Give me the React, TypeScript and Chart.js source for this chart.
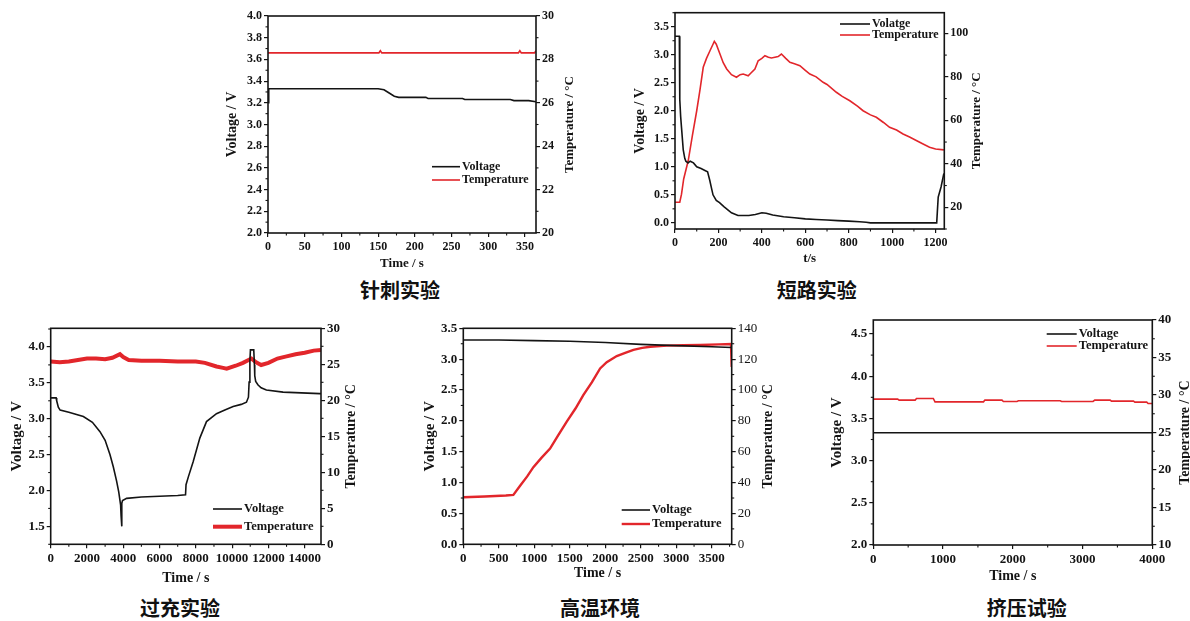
import React, { useEffect, useRef } from 'react';
import { Chart, registerables } from 'chart.js';

Chart.register(...registerables);

const RED = '#e2262b';
const BLACK = '#141414';
const SERIF = '"Liberation Serif", "Times New Roman", serif';

// ---------- 针刺实验 (needle) ----------
const needleVoltTime = [0, 1, 150, 158, 165, 172, 178, 215, 218, 265, 268, 330, 335, 355, 365];
const needleVolt = [3.2, 3.33, 3.33, 3.32, 3.29, 3.26, 3.25, 3.25, 3.24, 3.24, 3.23, 3.23, 3.22, 3.22, 3.21];
const needleTempTime = [0, 151, 153, 155, 341, 343, 345, 363, 365];
const needleTemp = [28.3, 28.3, 28.4, 28.3, 28.3, 28.4, 28.3, 28.3, 28.4];
const needleXTicks = [0, 50, 100, 150, 200, 250, 300, 350];
const needleVTicks = [2.0, 2.2, 2.4, 2.6, 2.8, 3.0, 3.2, 3.4, 3.6, 3.8, 4.0];
const needleTTicks = [20, 22, 24, 26, 28, 30];

// ---------- 短路实验 (short circuit) ----------
const shortVoltTime = [0, 20, 22, 26, 30, 38, 45, 50, 60, 70, 85, 100, 120, 140, 150, 160, 168, 175, 190, 205, 225, 260, 290, 320, 340, 370, 400, 420, 450, 500, 550, 600, 650, 700, 750, 800, 850, 880, 900, 1000, 1100, 1205, 1208, 1212, 1225, 1238];
const shortVolt = [3.33, 3.33, 2.2, 1.9, 1.7, 1.3, 1.15, 1.1, 1.07, 1.1, 1.07, 1.0, 0.97, 0.93, 0.91, 0.76, 0.62, 0.5, 0.4, 0.36, 0.29, 0.18, 0.13, 0.13, 0.13, 0.15, 0.18, 0.17, 0.14, 0.11, 0.09, 0.07, 0.06, 0.05, 0.04, 0.03, 0.02, 0.01, 0.0, 0.0, 0.0, 0.0, 0.2, 0.46, 0.64, 0.88];
const shortTempTime = [0, 22, 30, 40, 61, 80, 100, 115, 130, 145, 161, 175, 181, 190, 207, 222, 238, 260, 283, 300, 314, 337, 352, 368, 383, 400, 414, 430, 444, 460, 475, 490, 510, 529, 550, 575, 600, 621, 650, 682, 700, 743, 770, 805, 840, 866, 900, 927, 960, 988, 1020, 1050, 1080, 1111, 1140, 1172, 1200, 1238];
const shortTemp = [22.3, 22.3, 26, 33, 41.5, 53, 64.4, 74, 84.4, 88.5, 92, 95, 96.3, 95, 90.5, 86.5, 83.6, 81, 79.8, 81, 81.3, 80.5, 82, 83.6, 87.4, 88.5, 89.7, 89, 88.7, 89, 89.3, 90.5, 88.5, 86.7, 86, 85.1, 83, 81.3, 80, 77.5, 76.5, 72.9, 71, 69, 66.5, 64.4, 62.5, 61.4, 59, 56.8, 55.5, 53.7, 52.3, 50.7, 49.2, 47.6, 46.8, 46.4];
const shortXTicks = [0, 200, 400, 600, 800, 1000, 1200];
const shortVTicks = [0.0, 0.5, 1.0, 1.5, 2.0, 2.5, 3.0, 3.5];
const shortTTicks = [20, 40, 60, 80, 100];

// ---------- 过充实验 (overcharge) ----------
const overVoltTime = [0, 300, 330, 420, 520, 1000, 1800, 2300, 2716, 3000, 3266, 3450, 3633, 3750, 3853, 3880, 3908, 3930, 3960, 4184, 5000, 6000, 7000, 7432, 7460, 7600, 7853, 8220, 8588, 9138, 9600, 10056, 10500, 10790, 10900, 10937, 10980, 11010, 11193, 11230, 11248, 11300, 11432, 11600, 11890, 12808, 14826, 14900];
const overVolt = [3.29, 3.29, 3.25, 3.16, 3.12, 3.09, 3.03, 2.95, 2.82, 2.7, 2.5, 2.33, 2.13, 1.98, 1.8, 1.65, 1.5, 1.82, 1.86, 1.89, 1.91, 1.92, 1.93, 1.94, 2.08, 2.2, 2.4, 2.73, 2.96, 3.07, 3.12, 3.17, 3.2, 3.23, 3.3, 3.51, 3.8, 3.96, 3.96, 3.75, 3.6, 3.52, 3.47, 3.43, 3.4, 3.37, 3.35, 3.35];
const overTempTime = [0, 500, 1000, 1500, 2000, 2500, 3000, 3400, 3816, 4000, 4300, 5000, 6000, 7000, 8000, 8500, 9138, 9500, 9700, 10200, 10600, 11065, 11300, 11600, 12000, 12500, 13000, 13500, 14000, 14500, 14900];
const overTemp = [25.4, 25.3, 25.4, 25.6, 25.8, 25.8, 25.7, 25.9, 26.4, 26.0, 25.6, 25.5, 25.5, 25.4, 25.4, 25.2, 24.7, 24.5, 24.4, 24.8, 25.2, 25.8, 25.3, 24.9, 25.2, 25.8, 26.1, 26.4, 26.6, 26.9, 27.0];
const overXTicks = [0, 2000, 4000, 6000, 8000, 10000, 12000, 14000];
const overVTicks = [1.5, 2.0, 2.5, 3.0, 3.5, 4.0];
const overTTicks = [0, 5, 10, 15, 20, 25, 30];

// ---------- 高温环境 (high temperature) ----------
const heatVoltTime = [0, 500, 1000, 1500, 2000, 2500, 3000, 3500, 3780];
const heatVolt = [3.31, 3.31, 3.3, 3.29, 3.27, 3.24, 3.22, 3.2, 3.19];
const heatTempTime = [0, 300, 600, 705, 800, 900, 987, 1100, 1222, 1340, 1457, 1580, 1692, 1810, 1927, 2020, 2161, 2280, 2396, 2520, 2632, 2867, 3100, 3336, 3600, 3770, 3780];
const heatTemp = [30.5, 31, 31.6, 32, 38, 44, 50, 56, 62, 71, 79.5, 88, 96.8, 105, 114, 118, 122, 124, 126, 127.3, 128, 128.8, 129, 129.2, 129.6, 129.8, 115];
const heatXTicks = [0, 500, 1000, 1500, 2000, 2500, 3000, 3500];
const heatVTicks = [0.0, 0.5, 1.0, 1.5, 2.0, 2.5, 3.0, 3.5];
const heatTTicks = [0, 20, 40, 60, 80, 100, 120, 140];

// ---------- 挤压试验 (crush) ----------
const crushVoltTime = [0, 4000];
const crushVolt = [3.33, 3.33];
const crushTempTime = [0, 350, 370, 600, 620, 860, 885, 1580, 1600, 1845, 1865, 2060, 2080, 2680, 2700, 3150, 3175, 3395, 3415, 3730, 3750, 3920, 3940, 4000];
const crushTemp = [29.45, 29.45, 29.32, 29.32, 29.54, 29.54, 29.09, 29.09, 29.32, 29.32, 29.14, 29.14, 29.23, 29.23, 29.14, 29.14, 29.32, 29.32, 29.18, 29.18, 29.05, 29.05, 28.87, 28.87];
const crushXTicks = [0, 1000, 2000, 3000, 4000];
const crushVTicks = [2.0, 2.5, 3.0, 3.5, 4.0, 4.5];
const crushTTicks = [10, 15, 20, 25, 30, 35, 40];

const pts = (xs: number[], ys: number[]) => xs.map((x, i) => ({ x, y: ys[i] }));

interface PanelSpec {
  caption: string;
  captionX: number;
  captionY: number;
  plot: [number, number, number, number];
  leftTitleX: number;
  rightTitleX: number;
  xTitleY: number;
  xTitle: string;
  xRange: [number, number];
  vRange: [number, number];
  tRange: [number, number];
  xTicks: number[];
  vTicks: number[];
  tTicks: number[];
  tickSize: number;
  xTitleSize: number;
  leftTitleSize: number;
  rightTitleSize: number;
  rightTickBold: boolean;
  legend: { x: number; y: number; rowH: number; lineLen: number; size: number };
  voltLabel: string;
  volt: { x: number; y: number }[];
  temp: { x: number; y: number }[];
  tempWidth: number;
}

const panels: PanelSpec[] = [
  {
    caption: '针刺实验', captionX: 400, captionY: 290,
    plot: [268, 16, 536, 233], leftTitleX: 232, rightTitleX: 570, xTitleY: 263.3,
    xTitle: 'Time / s', xRange: [0, 365], vRange: [2.0, 4.0], tRange: [20, 30],
    xTicks: needleXTicks, vTicks: needleVTicks, tTicks: needleTTicks,
    tickSize: 12, xTitleSize: 13, leftTitleSize: 14, rightTitleSize: 13, rightTickBold: true,
    legend: { x: 432, y: 166.7, rowH: 13.3, lineLen: 28, size: 12 },
    voltLabel: 'Voltage', volt: pts(needleVoltTime, needleVolt), temp: pts(needleTempTime, needleTemp), tempWidth: 1.6,
  },
  {
    caption: '短路实验', captionX: 816.7, captionY: 290,
    plot: [675, 12.7, 944.3, 229], leftTitleX: 640, rightTitleX: 976.7, xTitleY: 258.3,
    xTitle: 't/s', xRange: [0, 1240], vRange: [-0.11, 3.75], tRange: [10, 109.5],
    xTicks: shortXTicks, vTicks: shortVTicks, tTicks: shortTTicks,
    tickSize: 12, xTitleSize: 13, leftTitleSize: 14, rightTitleSize: 13, rightTickBold: true,
    legend: { x: 840, y: 24, rowH: 11, lineLen: 30, size: 12 },
    voltLabel: 'Volatge', volt: pts(shortVoltTime, shortVolt), temp: pts(shortTempTime, shortTemp), tempWidth: 1.6,
  },
  {
    caption: '过充实验', captionX: 180, captionY: 608,
    plot: [50.7, 328.3, 321, 544.3], leftTitleX: 16.7, rightTitleX: 351.7, xTitleY: 578.3,
    xTitle: 'Time / s', xRange: [0, 14900], vRange: [1.25, 4.26], tRange: [0, 30],
    xTicks: overXTicks, vTicks: overVTicks, tTicks: overTTicks,
    tickSize: 13, xTitleSize: 14, leftTitleSize: 15, rightTitleSize: 14, rightTickBold: true,
    legend: { x: 213, y: 509, rowH: 17.7, lineLen: 29, size: 12.5 },
    voltLabel: 'Voltage', volt: pts(overVoltTime, overVolt), temp: pts(overTempTime, overTemp), tempWidth: 4,
  },
  {
    caption: '高温环境', captionX: 600, captionY: 608,
    plot: [463.3, 328.3, 731.7, 544.3], leftTitleX: 430, rightTitleX: 768, xTitleY: 573.3,
    xTitle: 'Time / s', xRange: [0, 3780], vRange: [0, 3.5], tRange: [0, 140],
    xTicks: heatXTicks, vTicks: heatVTicks, tTicks: heatTTicks,
    tickSize: 13, xTitleSize: 14, leftTitleSize: 15, rightTitleSize: 14, rightTickBold: false,
    legend: { x: 621.7, y: 510, rowH: 14, lineLen: 28.3, size: 12.5 },
    voltLabel: 'Voltage', volt: pts(heatVoltTime, heatVolt), temp: pts(heatTempTime, heatTemp), tempWidth: 2.4,
  },
  {
    caption: '挤压试验', captionX: 1026.7, captionY: 608,
    plot: [873.3, 320, 1152.3, 545], leftTitleX: 836.7, rightTitleX: 1185, xTitleY: 576.7,
    xTitle: 'Time / s', xRange: [0, 4000], vRange: [2.0, 4.666], tRange: [10, 40],
    xTicks: crushXTicks, vTicks: crushVTicks, tTicks: crushTTicks,
    tickSize: 13, xTitleSize: 14, leftTitleSize: 15, rightTitleSize: 14, rightTickBold: true,
    legend: { x: 1046.7, y: 334, rowH: 12, lineLen: 30, size: 12.5 },
    voltLabel: 'Voltage', volt: pts(crushVoltTime, crushVolt), temp: pts(crushTempTime, crushTemp), tempWidth: 1.6,
  },
];

const decorPlugin = {
  id: 'decor',
  afterDatasetsDraw(chart: any, _args: any, opts: any) {
    const { ctx, chartArea: a } = chart;
    ctx.save();
    // minor ticks halfway between major ticks
    ctx.strokeStyle = BLACK;
    ctx.lineWidth = 1.1;
    for (const id of ['x', 'y', 'y1']) {
      const s = chart.scales[id];
      if (!s) continue;
      const vals = s.ticks.map((t: any) => t.value);
      if (vals.length < 2) continue;
      const step = vals[1] - vals[0];
      for (let v = vals[0] - step / 2; v <= s.max + 1e-9; v += step) {
        if (v < s.min - 1e-9) continue;
        const p = s.getPixelForValue(v);
        ctx.beginPath();
        if (id === 'x') { ctx.moveTo(p, a.bottom); ctx.lineTo(p, a.bottom + 2.5); }
        else if (id === 'y') { ctx.moveTo(a.left, p); ctx.lineTo(a.left - 2.5, p); }
        else { ctx.moveTo(a.right, p); ctx.lineTo(a.right + 2.5, p); }
        ctx.stroke();
      }
    }
    // frame
    ctx.lineWidth = 1.6;
    ctx.strokeRect(a.left, a.top, a.right - a.left, a.bottom - a.top);
    // right axis title (reads bottom-to-top)
    ctx.fillStyle = BLACK;
    ctx.font = `bold ${opts.rightTitleSize}px ${SERIF}`;
    ctx.textAlign = 'center';
    ctx.textBaseline = 'middle';
    ctx.translate(opts.rightTitleX, (a.top + a.bottom) / 2);
    ctx.rotate(-Math.PI / 2);
    ctx.fillText(opts.rightTitle, 0, 0);
    ctx.restore();
    ctx.save();
    // legend
    const lg = opts.legend;
    chart.data.datasets.forEach((ds: any, i: number) => {
      const y = lg.y + i * lg.rowH;
      ctx.strokeStyle = ds.borderColor;
      ctx.lineWidth = Math.max(1.6, ds.borderWidth);
      ctx.beginPath();
      ctx.moveTo(lg.x, y);
      ctx.lineTo(lg.x + lg.lineLen, y);
      ctx.stroke();
      ctx.fillStyle = BLACK;
      ctx.font = `bold ${lg.size}px ${SERIF}`;
      ctx.textAlign = 'left';
      ctx.textBaseline = 'middle';
      ctx.fillText(ds.label, lg.x + lg.lineLen + 2, y);
    });
    ctx.restore();
  },
};

function Panel({ spec }: { spec: PanelSpec }) {
  const ref = useRef<HTMLCanvasElement>(null);
  const cl = Math.max(0, Math.round(spec.leftTitleX - 12));
  const ct = Math.round(spec.plot[1] - 12);
  const cr = Math.min(1190, Math.round(spec.rightTitleX + 12));
  const cb = Math.min(621, Math.round(spec.xTitleY + 12));
  const w = cr - cl;
  const h = cb - ct;

  useEffect(() => {
    if (!ref.current) return;
    const L = spec.plot[0] - cl;
    const R = cr - spec.plot[2];
    const T = spec.plot[1] - ct;
    const B = cb - spec.plot[3];
    const leftLH = spec.leftTitleSize * 1.2;
    const xLH = spec.xTitleSize * 1.2;
    const tickFont = { family: SERIF, size: spec.tickSize, weight: 'bold' as const };
    const gridOpts = { drawOnChartArea: false, drawTicks: true, tickLength: 4, color: BLACK, lineWidth: 1.2 };
    const setTicks = (arr: number[]) => (axis: any) => { axis.ticks = arr.map((value) => ({ value })); };
    const chart = new Chart(ref.current, {
      type: 'line',
      data: {
        datasets: [
          { label: spec.voltLabel, data: spec.volt, borderColor: BLACK, backgroundColor: BLACK, borderWidth: 1.6, pointRadius: 0, tension: 0, yAxisID: 'y' },
          { label: 'Temperature', data: spec.temp, borderColor: RED, backgroundColor: RED, borderWidth: spec.tempWidth, pointRadius: 0, tension: 0, yAxisID: 'y1' },
        ],
      },
      options: {
        responsive: false,
        animation: false,
        layout: { padding: { top: T, left: 0, right: 0, bottom: 0 } },
        scales: {
          x: {
            type: 'linear', position: 'bottom',
            min: spec.xRange[0], max: spec.xRange[1],
            afterBuildTicks: setTicks(spec.xTicks),
            ticks: { autoSkip: false, maxRotation: 0, minRotation: 0, padding: 3, color: BLACK, font: tickFont, callback: (v: any) => String(v) },
            grid: gridOpts,
            border: { display: false },
            title: { display: true, text: spec.xTitle, color: BLACK, font: { family: SERIF, size: spec.xTitleSize, weight: 'bold' }, padding: { top: 0, bottom: B - (spec.xTitleY - spec.plot[3]) - xLH / 2 } },
            afterFit: (s: any) => { s.height = B; },
          },
          y: {
            type: 'linear', position: 'left',
            min: spec.vRange[0], max: spec.vRange[1],
            afterBuildTicks: setTicks(spec.vTicks),
            ticks: { autoSkip: false, padding: 2, color: BLACK, font: tickFont, callback: (v: any) => Number(v).toFixed(1) },
            grid: gridOpts,
            border: { display: false },
            title: { display: true, text: 'Voltage / V', color: BLACK, font: { family: SERIF, size: spec.leftTitleSize, weight: 'bold' }, padding: { top: (spec.leftTitleX - cl) - leftLH / 2, bottom: 0 } },
            afterFit: (s: any) => { s.width = L; },
          },
          y1: {
            type: 'linear', position: 'right',
            min: spec.tRange[0], max: spec.tRange[1],
            afterBuildTicks: setTicks(spec.tTicks),
            ticks: { autoSkip: false, padding: 2, color: BLACK, font: { family: SERIF, size: spec.tickSize, weight: spec.rightTickBold ? 'bold' : 'normal' }, callback: (v: any) => String(Math.round(Number(v))) },
            grid: gridOpts,
            border: { display: false },
            title: { display: false, text: 'Temperature / °C' },
            afterFit: (s: any) => { s.width = R; },
          },
        },
        plugins: {
          legend: { display: false },
          tooltip: { enabled: false },
          decor: {
            rightTitle: 'Temperature / °C',
            rightTitleX: spec.rightTitleX - cl,
            rightTitleSize: spec.rightTitleSize,
            legend: { ...spec.legend, x: spec.legend.x - cl, y: spec.legend.y - ct },
          },
        } as any,
      },
      plugins: [decorPlugin as any],
    });
    return () => chart.destroy();
  }, []);

  return (
    <canvas
      ref={ref}
      width={w}
      height={h}
      style={{ position: 'absolute', left: cl, top: ct, width: w, height: h }}
    />
  );
}

export default function App() {
  return (
    <div style={{ position: 'absolute', left: 0, top: 0, width: 1190, height: 621, background: '#fff', overflow: 'hidden' }}>
      {panels.map((p, i) => (
        <Panel key={i} spec={p} />
      ))}
      {panels.map((p, i) => (
        <div
          key={'c' + i}
          style={{
            position: 'absolute',
            left: p.captionX - 100,
            width: 200,
            top: p.captionY - 14,
            height: 28,
            lineHeight: '28px',
            textAlign: 'center',
            fontFamily: '"Noto Sans CJK SC", sans-serif',
            fontWeight: 700,
            fontSize: 20,
            color: '#111',
          }}
        >
          {p.caption}
        </div>
      ))}
    </div>
  );
}
